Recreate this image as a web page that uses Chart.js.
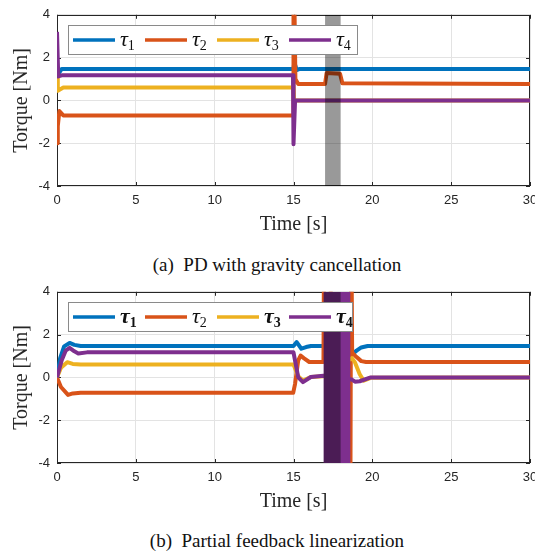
<!DOCTYPE html>
<html>
<head>
<meta charset="utf-8">
<script src="https://cdn.jsdelivr.net/npm/chart.js@4.4.0/dist/chart.umd.min.js"></script>
<style>
  html, body { margin: 0; padding: 0; background: #fff; overflow: hidden; }
  #wrap { position: relative; width: 535px; height: 553px; }
  canvas { position: absolute; left: 0; }
  .cap { position: absolute; left: 0; width: 554px; text-align: center;
         font-family: "Liberation Serif", serif; font-size: 19px; line-height: 20px; color: #111; }
</style>
</head>
<body>
<div id="wrap">
  <canvas id="chartA" width="560" height="240" style="top:0px"></canvas>
  <div class="cap" style="top:255px">(a)&nbsp; PD with gravity cancellation</div>
  <canvas id="chartB" width="560" height="240" style="top:277px"></canvas>
  <div class="cap" style="top:531px">(b)&nbsp; Partial feedback linearization</div>
</div>
<script>
// axis ticks
const xTicks = [0, 5, 10, 15, 20, 25, 30];
const yTicks = [-4, -2, 0, 2, 4];

// (a) PD with gravity cancellation
const tA1 = [0, 0.1, 0.3, 15.0, 15.05, 15.2, 15.4, 30];
const tauA1 = [1.35, 1.25, 1.47, 1.47, 1.8, 1.42, 1.47, 1.47];
const tA2 = [0, 0.05, 0.15, 0.4, 14.97, 15.0, 15.12, 15.3, 17.0, 17.1, 17.95, 18.1, 30];
const tauA2 = [-2.0, -1.2, -0.5, -0.7, -0.7, 8, 1.0, 0.77, 0.77, 1.28, 1.25, 0.8, 0.77];
const tA3 = [0, 0.05, 0.4, 14.98, 15.05, 30];
const tauA3 = [1.05, 0.45, 0.6, 0.6, 0, 0];
const tA4 = [0, 0.08, 0.3, 14.97, 15.0, 15.1, 30];
const tauA4 = [3.2, 1.12, 1.17, 1.17, -2.05, 0, 0];
const bandA = [17, 18];

// (b) Partial feedback linearization
const tB1 = [0, 0.2, 0.45, 0.8, 1.1, 1.5, 15.0, 15.2, 15.5, 15.8, 16.1, 16.9, 18.75, 19.0, 19.3, 19.7, 30];
const tauB1 = [0, 0.9, 1.45, 1.61, 1.52, 1.47, 1.47, 1.65, 1.34, 1.42, 1.47, 1.47, 1.1, 1.25, 1.4, 1.47, 1.47];
const tB2 = [0, 0.25, 0.7, 1.0, 1.5, 14.98, 15.1, 15.3, 15.45, 15.65, 16.0, 16.9, 16.95, 18.6, 18.66, 18.72, 19.0, 19.3, 19.6, 30];
const tauB2 = [0, -0.45, -0.82, -0.75, -0.72, -0.72, -0.3, 0.8, 1.02, 0.9, 0.72, 0.72, 8, -8, 8, 1.15, 0.95, 0.76, 0.72, 0.72];
const tB3 = [0, 0.25, 0.65, 1.0, 1.5, 15.0, 15.3, 15.6, 16.1, 16.9, 18.7, 18.9, 19.2, 19.45, 19.9, 30];
const tauB3 = [0, 0.45, 0.71, 0.63, 0.6, 0.6, 0.05, -0.15, 0.02, 0.05, 0.9, 0.7, 0.15, -0.15, -0.02, 0];
const tB4 = [0, 0.3, 0.55, 0.8, 1.1, 1.35, 1.9, 15.0, 15.3, 15.6, 16.1, 16.9, 18.7, 18.9, 19.2, 19.9, 30];
const tauB4 = [0, 0.8, 1.25, 1.38, 1.22, 1.12, 1.17, 1.17, 0.0, -0.22, 0.02, 0.08, -0.1, -0.2, -0.18, 0, 0];
const chatterB = [16.9, 18.62];
const bandB = [16.9, 18.0];

const colors = ["#0072BD", "#D95319", "#EDB120", "#7E2F8E"];

function pts(t, v) {
    return t.map((x, i) => ({ x: x, y: v[i] }));
}

function lineSet(t, v, color, order) {
    return {
        data: pts(t, v),
        borderColor: color,
        borderWidth: 4,
        borderJoinStyle: "round",
        pointRadius: 0,
        fill: false,
        order: order,
    };
}

// full-height shaded strip between two times
function stripSet(range, color, order) {
    return {
        data: range.map((x) => ({ x: x, y: yTicks[yTicks.length - 1] })),
        borderColor: "rgba(0,0,0,0)",
        borderWidth: 1,
        backgroundColor: color,
        pointRadius: 0,
        fill: { value: yTicks[0] },
        order: order,
    };
}

// box + inward ticks like matlab
const boxPlugin = {
    id: "box",
    beforeDatasetsDraw(chart) {
        const ctx = chart.ctx, a = chart.chartArea;
        const xs = chart.scales.x, ys = chart.scales.y;
        ctx.save();
        ctx.strokeStyle = "#262626";
        ctx.lineWidth = 1;
        ctx.strokeRect(Math.round(a.left) + 0.5, Math.round(a.top) + 0.5,
            Math.round(a.right - a.left) - 1, Math.round(a.bottom - a.top) - 1);
        ctx.beginPath();
        xTicks.forEach((v) => {
            const px = Math.round(xs.getPixelForValue(v)) + 0.5;
            ctx.moveTo(px, a.bottom); ctx.lineTo(px, a.bottom - 4);
            ctx.moveTo(px, a.top); ctx.lineTo(px, a.top + 4);
        });
        yTicks.forEach((v) => {
            const py = Math.round(ys.getPixelForValue(v)) + 0.5;
            ctx.moveTo(a.left, py); ctx.lineTo(a.left + 4, py);
            ctx.moveTo(a.right, py); ctx.lineTo(a.right - 4, py);
        });
        ctx.stroke();
        ctx.restore();
    },
};

// legend inside the axes, drawn over the data
const tauLegend = {
    id: "tauLegend",
    afterDatasetsDraw(chart, args, opts) {
        const ctx = chart.ctx, a = chart.chartArea;
        const x0 = Math.round(a.left) + 11, y0 = Math.round(a.top) + 10;
        ctx.save();
        ctx.fillStyle = "#fff";
        ctx.fillRect(x0, y0, opts.width, 29);
        ctx.strokeStyle = "#8a8a8a";
        ctx.lineWidth = 1;
        ctx.strokeRect(x0 + 0.5, y0 + 0.5, opts.width, 29);
        colors.forEach((c, i) => {
            const lx = x0 + 5 + i * 72;
            ctx.strokeStyle = c;
            ctx.lineWidth = 3.5;
            ctx.beginPath();
            ctx.moveTo(lx, y0 + 15);
            ctx.lineTo(lx + 42, y0 + 15);
            ctx.stroke();
            const w = opts.bold[i] ? "bold " : "";
            ctx.fillStyle = "#111";
            ctx.textBaseline = "alphabetic";
            ctx.font = "italic " + w + "22px Liberation Serif, serif";
            ctx.fillText("τ", lx + 47, y0 + 21);
            const tw = ctx.measureText("τ").width;
            ctx.font = w + "14px Liberation Serif, serif";
            ctx.fillText(String(i + 1), lx + 47 + tw, y0 + 24.5);
        });
        ctx.restore();
    },
};

const serif = "Liberation Serif, serif";
const sans = "Liberation Sans, sans-serif";

function makeChart(id, datasets, legendOpts) {
    return new Chart(document.getElementById(id), {
        type: "line",
        data: { datasets: datasets },
        plugins: [boxPlugin, tauLegend],
        options: {
            responsive: false,
            animation: false,
            devicePixelRatio: 1,
            layout: { padding: { top: 10, left: 0, right: 30, bottom: 0 } },
            plugins: {
                legend: { display: false },
                tooltip: { enabled: false },
                tauLegend: legendOpts,
            },
            scales: {
                x: {
                    type: "linear",
                    min: xTicks[0],
                    max: xTicks[xTicks.length - 1],
                    afterBuildTicks: (s) => { s.ticks = xTicks.map((v) => ({ value: v })); },
                    afterFit: (s) => { s.height = 54; },
                    grid: { color: "#e3e3e3", drawTicks: false },
                    border: { display: false },
                    ticks: { padding: 6.5, color: "#262626", maxRotation: 0,
                        font: { family: sans, size: 13 } },
                    title: { display: true, text: "Time [s]", color: "#262626",
                        padding: { top: 0, bottom: 3.5 },
                        font: { family: serif, size: 20 } },
                },
                y: {
                    min: yTicks[0],
                    max: yTicks[yTicks.length - 1],
                    afterBuildTicks: (s) => { s.ticks = yTicks.map((v) => ({ value: v })); },
                    afterFit: (s) => { s.width = 57; },
                    grid: { color: "#e3e3e3", drawTicks: false },
                    border: { display: false },
                    ticks: { padding: 7, color: "#262626",
                        font: { family: sans, size: 13 } },
                    title: { display: true, text: "Torque [Nm]", color: "#262626",
                        padding: { top: 10, bottom: 0 },
                        font: { family: serif, size: 20 } },
                },
            },
        },
    });
}

makeChart("chartA", [
    stripSet(bandA, "rgba(0,0,0,0.4)", 0),
    lineSet(tA4, tauA4, colors[3], 1),
    lineSet(tA3, tauA3, colors[2], 2),
    lineSet(tA2, tauA2, colors[1], 3),
    lineSet(tA1, tauA1, colors[0], 4),
], { width: 289, bold: [false, false, false, false] });

makeChart("chartB", [
    stripSet(bandB, "rgba(0,0,0,0.4)", 0),
    stripSet(chatterB, colors[3], 1),
    lineSet(tB4, tauB4, colors[3], 1),
    lineSet(tB3, tauB3, colors[2], 2),
    lineSet(tB2, tauB2, colors[1], 3),
    lineSet(tB1, tauB1, colors[0], 4),
], { width: 284, bold: [true, false, true, true] });
</script>
</body>
</html>
